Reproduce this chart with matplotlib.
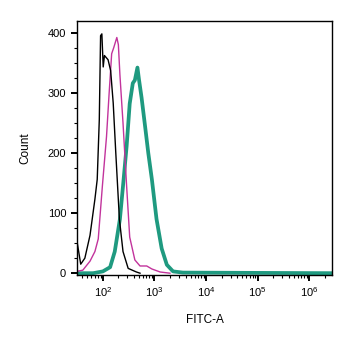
import numpy as np
import matplotlib.pyplot as plt
from matplotlib.ticker import LogLocator, MultipleLocator, NullFormatter

plt.rcParams['font.family'] = ['Liberation Sans', 'DejaVu Sans']

# histogram traces (log10 of FITC-A, count)
black_logx = [1.49, 1.57, 1.65, 1.75, 1.845, 1.89, 1.93, 1.955, 1.98, 2.006, 2.03, 2.10, 2.15, 2.20, 2.25, 2.32, 2.39, 2.49, 2.65, 2.72]
black_count = [57, 15, 25, 63, 123, 156, 255, 395, 398, 343, 362, 355, 337, 283, 200, 90, 36, 8, 2, 0]

magenta_logx = [1.49, 1.61, 1.75, 1.845, 1.91, 1.94, 1.99, 2.07, 2.12, 2.17, 2.21, 2.27, 2.30, 2.33, 2.39, 2.46, 2.52, 2.62, 2.72, 2.85, 2.95, 3.11, 3.30]
magenta_count = [3, 5, 20, 36, 57, 90, 145, 227, 298, 365, 375, 392, 380, 330, 250, 145, 60, 22, 12, 12, 7, 2, 0]

teal_logx = [1.49, 1.81, 2.0, 2.14, 2.23, 2.33, 2.39, 2.46, 2.52, 2.58, 2.62, 2.67, 2.70, 2.75, 2.82, 2.88, 2.95, 3.04, 3.14, 3.24, 3.36, 3.55, 6.45]
teal_count = [0, 0, 3, 10, 36, 90, 145, 211, 282, 316, 321, 342, 322, 292, 243, 200, 156, 90, 41, 14, 3, 1, 0]

fig = plt.figure(figsize=(3.53, 3.47), dpi=100)
ax = fig.add_axes([0.217, 0.2075, 0.7245, 0.733])

ax.plot(10 ** np.array(teal_logx), teal_count, color='#1f9a80', lw=2.7, solid_joinstyle='round')
ax.plot(10 ** np.array(magenta_logx), magenta_count, color='#c2339c', lw=1.0)
ax.plot(10 ** np.array(black_logx), black_count, color='black', lw=1.0)

ax.set_xscale('log')
ax.set_xlim(10 ** 1.49, 10 ** 6.45)
ax.set_ylim(-3, 420)

ax.xaxis.set_major_locator(LogLocator(base=10, numticks=10))
ax.xaxis.set_minor_locator(LogLocator(base=10, subs=np.arange(2, 10), numticks=20))
ax.xaxis.set_minor_formatter(NullFormatter())
ax.yaxis.set_major_locator(MultipleLocator(100))
ax.yaxis.set_minor_locator(MultipleLocator(25))

ax.tick_params(which='major', length=4, width=1.4, labelsize=8, direction='out')
ax.tick_params(which='minor', length=2.5, width=0.8, direction='out')
for s in ax.spines.values():
    s.set_linewidth(1.0)

ax.set_xlabel('FITC-A', fontsize=8.5, labelpad=11)
ax.set_ylabel('Count', fontsize=8.5, labelpad=12)

fig.savefig('out.png', dpi=100)
